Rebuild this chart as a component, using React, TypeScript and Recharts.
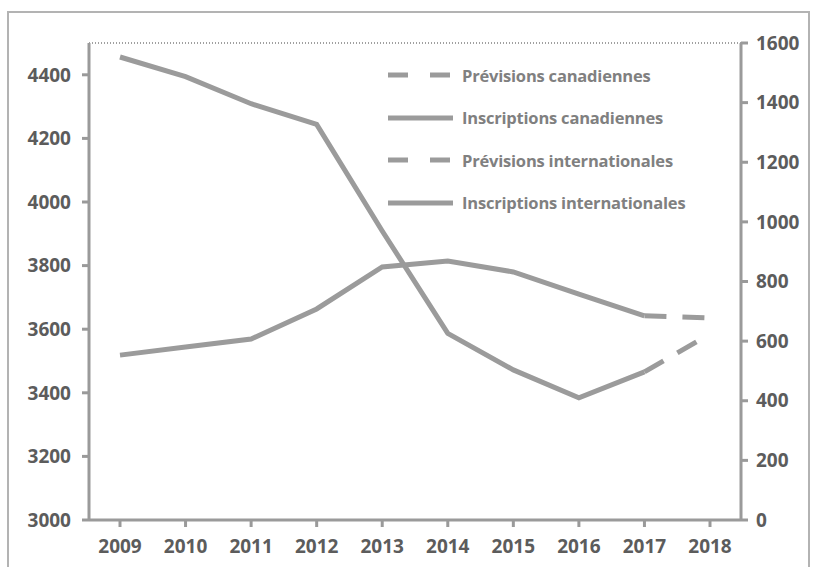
import React from "react"
import { LineChart, Line, XAxis, YAxis, Legend, ReferenceLine } from "recharts"

// Années (axe horizontal)
const years = ["2009", "2010", "2011", "2012", "2013", "2014", "2015", "2016", "2017", "2018"]

// Axe de gauche
const inscriptionsCanadiennes = [4456, 4394, 4309, 4244, 3909, 3587, 3472, 3384, 3466, null]
const previsionsCanadiennes = [null, null, null, null, null, null, null, null, 3466, 3585]

// Axe de droite
const inscriptionsInternationales = [553, 580, 607, 708, 849, 869, 832, 758, 685, null]
const previsionsInternationales = [null, null, null, null, null, null, null, null, 685, 678]

const leftTicks = [3000, 3200, 3400, 3600, 3800, 4000, 4200, 4400]
const rightTicks = [0, 200, 400, 600, 800, 1000, 1200, 1400, 1600]

const legendItems = [
  { label: "Prévisions canadiennes", dashed: true },
  { label: "Inscriptions canadiennes", dashed: false },
  { label: "Prévisions internationales", dashed: true },
  { label: "Inscriptions internationales", dashed: false },
]

const data = years.map((year, i) => ({
  year,
  inscCan: inscriptionsCanadiennes[i],
  prevCan: previsionsCanadiennes[i],
  inscInt: inscriptionsInternationales[i],
  prevInt: previsionsInternationales[i],
}))

const LINE = "#9b9b9b"
const AXIS = "#9a9a9a"
const tickStyle = { fill: "#5c5c5c", fontSize: 19, fontWeight: 700, fontFamily: "Open Sans" }

const LegendBox = () => (
  <div>
    {legendItems.map((item) => (
      <div key={item.label} style={{ display: "flex", alignItems: "center", height: 42.5 }}>
        <svg width={68} height={10}>
          <line
            x1={2}
            y1={5}
            x2={67}
            y2={5}
            stroke={LINE}
            strokeWidth={5}
            strokeDasharray={item.dashed ? "20 22" : undefined}
          />
        </svg>
        <span
          style={{
            marginLeft: 8,
            color: "#808080",
            fontFamily: "Open Sans",
            fontWeight: 700,
            fontSize: 16.5,
            letterSpacing: -0.2,
            whiteSpace: "nowrap",
          }}
        >
          {item.label}
        </span>
      </div>
    ))}
  </div>
)

export default function App() {
  return (
    <div style={{ position: "absolute", left: 0, top: 0, width: 815, height: 567, background: "#fff" }}>
      {/* cadre gris autour du graphique */}
      <div
        style={{
          position: "absolute",
          left: 7,
          top: 11,
          width: 803,
          height: 556,
          border: "2px solid #b3b3b3",
          borderBottom: "none",
          boxSizing: "border-box",
        }}
      />
      <LineChart
        width={815}
        height={567}
        data={data}
        margin={{ top: 43, right: 14, left: 19, bottom: 7 }}
        style={{ position: "absolute", left: 0, top: 0 }}
      >
        <XAxis
          dataKey="year"
          padding={{ left: 31, right: 31 }}
          height={40}
          stroke={AXIS}
          strokeWidth={3}
          tickSize={7}
          tickMargin={13}
          tick={tickStyle}
          interval={0}
        />
        <YAxis
          yAxisId="left"
          domain={[3000, 4500]}
          ticks={leftTicks}
          width={70}
          stroke={AXIS}
          strokeWidth={3}
          tickSize={7}
          tickMargin={11}
          tick={tickStyle}
          allowDataOverflow
        />
        <YAxis
          yAxisId="right"
          orientation="right"
          domain={[0, 1600]}
          ticks={rightTicks}
          width={60}
          stroke={AXIS}
          strokeWidth={3}
          tickSize={7}
          tickMargin={8}
          tick={tickStyle}
        />
        <ReferenceLine yAxisId="left" y={4500} stroke="#a0a0a0" strokeWidth={2} strokeDasharray="1 2" />
        <Legend
          layout="vertical"
          align="center"
          verticalAlign="middle"
          content={<LegendBox />}
          wrapperStyle={{ top: 54, left: 386, width: 360 }}
        />
        <Line
          yAxisId="left"
          dataKey="inscCan"
          stroke={LINE}
          strokeWidth={5}
          dot={false}
          isAnimationActive={false}
        />
        <Line
          yAxisId="left"
          dataKey="prevCan"
          stroke={LINE}
          strokeWidth={5}
          strokeDasharray="22 16"
          dot={false}
          isAnimationActive={false}
        />
        <Line
          yAxisId="right"
          dataKey="inscInt"
          stroke={LINE}
          strokeWidth={5}
          dot={false}
          isAnimationActive={false}
        />
        <Line
          yAxisId="right"
          dataKey="prevInt"
          stroke={LINE}
          strokeWidth={5}
          strokeDasharray="22 16"
          dot={false}
          isAnimationActive={false}
        />
      </LineChart>
    </div>
  )
}
